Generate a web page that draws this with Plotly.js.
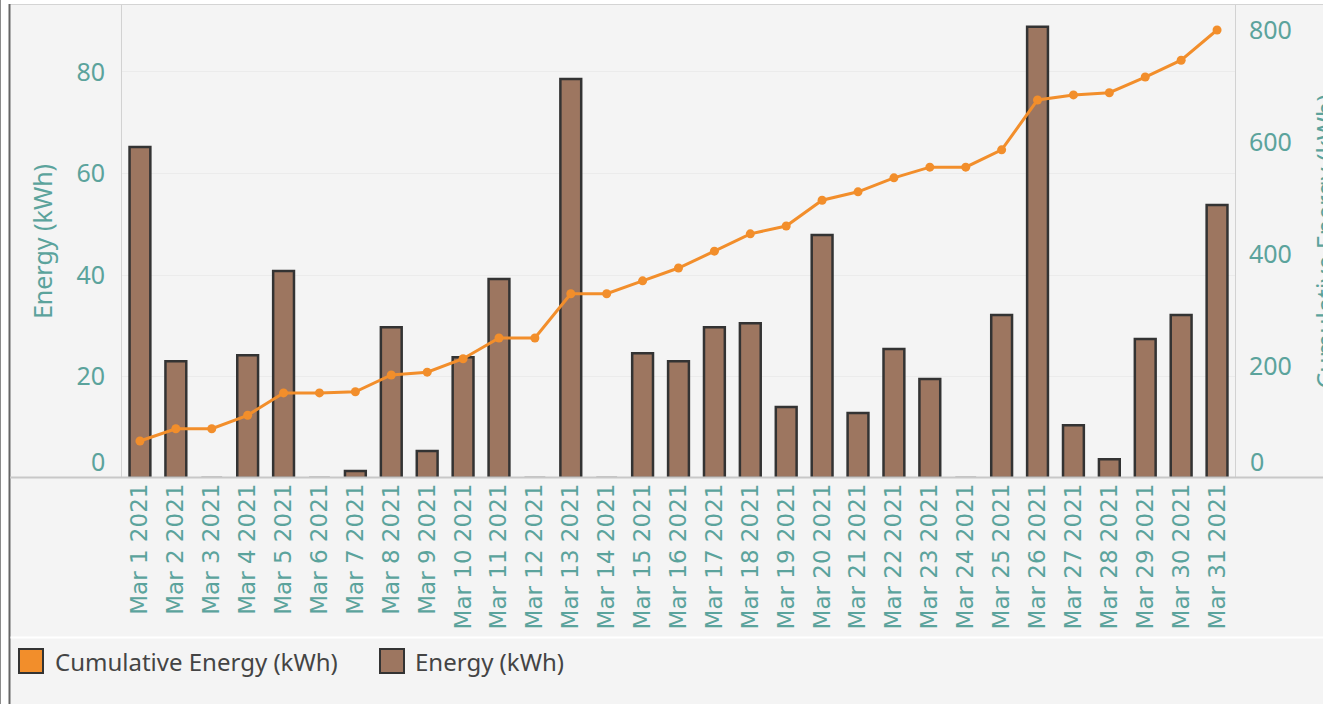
<!DOCTYPE html>
<html>
<head>
<meta charset="utf-8">
<script src="https://cdn.plot.ly/plotly-3.0.1.min.js"></script>
<style>
html,body{margin:0;padding:0;background:#ffffff;}
#chart{width:1323px;height:704px;}
</style>
</head>
<body>
<div id="chart"></div>
<script>
// ---- data ----
const days = ["Mar 1 2021","Mar 2 2021","Mar 3 2021","Mar 4 2021","Mar 5 2021","Mar 6 2021","Mar 7 2021","Mar 8 2021","Mar 9 2021","Mar 10 2021","Mar 11 2021","Mar 12 2021","Mar 13 2021","Mar 14 2021","Mar 15 2021","Mar 16 2021","Mar 17 2021","Mar 18 2021","Mar 19 2021","Mar 20 2021","Mar 21 2021","Mar 22 2021","Mar 23 2021","Mar 24 2021","Mar 25 2021","Mar 26 2021","Mar 27 2021","Mar 28 2021","Mar 29 2021","Mar 30 2021","Mar 31 2021"];
const energy = [65.2,23.0,0,24.2,40.8,0,1.4,29.7,5.3,23.8,39.2,0,78.6,0,24.6,23.0,29.7,30.5,14.0,47.9,12.8,25.4,19.5,0,32.1,88.9,10.4,3.7,27.4,32.1,53.8];
const cumulative = [66,88,88,112,152,152,154,184,189,213,250,250,329,329,352,375,405,436,450,496,511,536,555,555,586,675,684,688,716,746,800];
const leftTicks = [20,40,60,80];
const rightTicks = [200,400,600,800];
const seriesNames = ["Cumulative Energy (kWh)","Energy (kWh)"];
const axisTitles = ["Energy (kWh)","Cumulative Energy (kWh)"];

const teal = "#5ba39c";
const orange = "#f28e2b";
const brown = "#9d7660";
const bg = "#f4f4f4";

// plot area geometry (pixels)
const W = 1323, H = 704, L = 122, R = 88, T = 5, B = 226;
const pw = W - L - R, ph = H - T - B;
const px = v => (v - L) / pw;       // pixel x -> paper x
const py = v => (H - B - v) / ph;   // pixel y -> paper y

const traces = [
  {
    type: "bar", x: days, y: energy, name: seriesNames[1],
    marker: {color: brown, line: {color: "#333333", width: 2.5}},
    width: 0.58, yaxis: "y", showlegend: false,
    hovertemplate: "%{x}<br>%{y}<extra></extra>"
  },
  {
    type: "scatter", mode: "lines+markers", x: days, y: cumulative, name: seriesNames[0],
    line: {color: orange, width: 3}, marker: {color: orange, size: 9},
    yaxis: "y2", showlegend: false
  }
];

const font = "'Noto Sans', 'Open Sans', sans-serif";
const fs = 25;

const shapes = [
  // white top strip & left white margin
  {type:"rect", xref:"paper", yref:"paper", x0:px(0), x1:px(W), y0:py(4), y1:py(-2), fillcolor:"#ffffff", line:{width:0}, layer:"below"},
  {type:"rect", xref:"paper", yref:"paper", x0:px(0), x1:px(9), y0:py(H+2), y1:py(-2), fillcolor:"#ffffff", line:{width:0}, layer:"below"},
  {type:"line", xref:"paper", yref:"paper", x0:px(10), x1:px(W), y0:py(4.5), y1:py(4.5), line:{color:"#d4d4d4", width:1}},
  {type:"line", xref:"paper", yref:"paper", x0:px(0.5), x1:px(0.5), y0:py(0), y1:py(H), line:{color:"#8c8c8c", width:1}},
  {type:"line", xref:"paper", yref:"paper", x0:px(9.5), x1:px(9.5), y0:py(4), y1:py(H), line:{color:"#666666", width:2}},
  // baseline across
  {type:"line", xref:"paper", yref:"paper", x0:px(10), x1:px(W), y0:py(477.5), y1:py(477.5), line:{color:"#c8c8c8", width:2}},
  // separator above legend
  {type:"line", xref:"paper", yref:"paper", x0:px(10.5), x1:px(W), y0:py(637.5), y1:py(637.5), line:{color:"#ffffff", width:2}},
  // legend swatches
  {type:"rect", xref:"paper", yref:"paper", x0:px(19), x1:px(43), y0:py(673), y1:py(649), fillcolor:orange, line:{color:"#333333", width:2}},
  {type:"rect", xref:"paper", yref:"paper", x0:px(380), x1:px(404), y0:py(673), y1:py(649), fillcolor:brown, line:{color:"#333333", width:2}}
];

const annotations = [
  {text: seriesNames[0], xref:"paper", yref:"paper", x:px(53), y:py(661), xanchor:"left", yanchor:"middle", showarrow:false, font:{family:font, size:24, color:"#444444"}},
  {text: seriesNames[1], xref:"paper", yref:"paper", x:px(413), y:py(661), xanchor:"left", yanchor:"middle", showarrow:false, font:{family:font, size:24, color:"#444444"}},
  // zero labels, lifted above baseline as in the reference
  {text:"0", xref:"paper", yref:"y", x:px(107), y:0, xanchor:"right", yanchor:"middle", yshift:17, showarrow:false, font:{family:font, size:fs, color:teal}},
  {text:"0", xref:"paper", yref:"y2", x:px(1248), y:0, xanchor:"left", yanchor:"middle", yshift:17, showarrow:false, font:{family:font, size:fs, color:teal}},
  // right axis title, at the page edge as in the reference
  {text: axisTitles[1], xref:"paper", yref:"paper", x:px(1324), y:0.5, xanchor:"center", yanchor:"middle", textangle:-90, showarrow:false, font:{family:font, size:fs, color:teal}}
];

const layout = {
  width: W, height: H,
  margin: {l: L, r: R, t: T, b: B, pad: 0},
  paper_bgcolor: bg, plot_bgcolor: bg,
  showlegend: false,
  barmode: "overlay",
  xaxis: {
    type: "category", range: [-0.5, days.length - 0.5],
    tickangle: -90, tickfont: {family: "'DejaVu Sans', sans-serif", size: 23, color: teal},
    ticks: "", ticklen: 0,
    showgrid: false, showline: false, zeroline: false, automargin: false
  },
  yaxis: {
    range: [0, 93.2], tickvals: leftTicks,
    tickfont: {family: font, size: fs, color: teal},
    ticks: "outside", ticklen: 11, tickcolor: "rgba(0,0,0,0)",
    showgrid: true, gridcolor: "#ebebeb", gridwidth: 1,
    zeroline: false, showline: true, linecolor: "#d2d2d2", linewidth: 1,
    title: {text: axisTitles[0], font: {family: font, size: fs, color: teal}, standoff: 16},
    automargin: false
  },
  yaxis2: {
    overlaying: "y", side: "right",
    range: [0, 844.6], tickvals: rightTicks,
    tickfont: {family: font, size: fs, color: teal},
    ticks: "outside", ticklen: 8, tickcolor: "rgba(0,0,0,0)",
    showgrid: false, zeroline: false, showline: true, linecolor: "#d2d2d2", linewidth: 1,
    automargin: false
  },
  shapes: shapes,
  annotations: annotations
};

Plotly.newPlot("chart", traces, layout, {displayModeBar: false});
</script>
</body>
</html>
